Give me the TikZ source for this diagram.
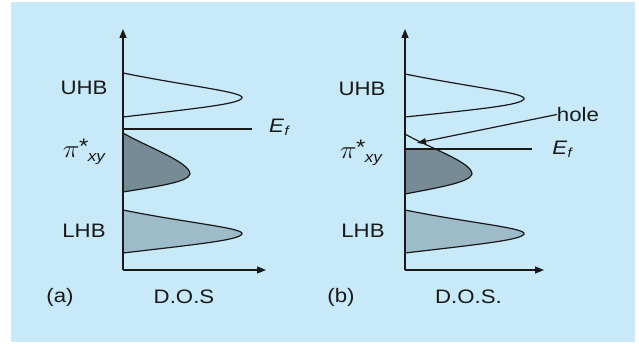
\documentclass[tikz,border=0pt]{standalone}
\usepackage{fontspec}
\setmainfont{Liberation Sans}
\usetikzlibrary{arrows.meta}
\definecolor{bgblue}{RGB}{200,233,248}
\definecolor{darkband}{RGB}{118,139,149}
\definecolor{lightband}{RGB}{157,187,201}
\definecolor{ink}{RGB}{25,25,25}
\newcommand{\wide}[1]{\scalebox{1.14}[1]{#1}}
\newcommand{\pilabel}{\wide{{\fontsize{23}{23}\selectfont$\pi$}\kern-1.5pt\raisebox{4pt}{\fontsize{21}{21}\selectfont\itshape *}\kern0.5pt\raisebox{-4pt}{\fontsize{15}{15}\selectfont\itshape xy}}}
\newcommand{\eflabel}{\wide{\itshape E\kern0.5pt\raisebox{-3pt}{\fontsize{13}{13}\selectfont f}}}
\begin{document}
\begin{tikzpicture}[x=1pt,y=-1pt,
  axis/.style={ink, line width=1.4pt, -{Triangle[length=9pt,width=7pt]}},
  band/.style={ink, line width=1.2pt},
  lbl/.style={font=\fontsize{19.5}{21}\selectfont, inner sep=0pt, text=ink}]
\useasboundingbox (0,0) rectangle (639,344);
\fill[white] (0,0) rectangle (639,344);
\fill[bgblue] (11,2) rectangle (635,342);

% ---------- panel (a) ----------
\coordinate (oa) at (123,270);
\coordinate (ya) at (123,29);
\coordinate (xa) at (266,270);
% bands
\draw[band] (123,73) .. controls (187,86) and (245,92) .. (242,98)
            .. controls (239,104) and (200,108) .. (123,117);
\filldraw[band, fill=darkband] (123,133) .. controls (145,146) and (190,162) .. (190,174)
            .. controls (188,182) and (160,186) .. (123,192) -- cycle;
\filldraw[band, fill=lightband] (123,210) .. controls (187,223) and (245,228) .. (242,234)
            .. controls (239,240) and (200,244) .. (123,253) -- cycle;
% Fermi level
\coordinate (efa1) at (123,129);
\coordinate (efa2) at (252,129);
\draw[band] (efa1) -- (efa2);
% axes
\draw[axis] (oa) -- (ya);
\draw[axis] (oa) -- (xa);
% labels
\node[lbl] (uhba) at (84,87.5) {\wide{UHB}};
\node[lbl] (lhba) at (84,231) {\wide{LHB}};
\node[lbl] (pia) at (84,152) {\pilabel};
\node[lbl] (efla) at (279,127) {\eflabel};
\node[lbl] (taga) at (60,297.5) {\wide{(a)}};
\node[lbl] (dosa) at (184,296.5) {\wide{D.O.S}};

% ---------- panel (b) ----------
\coordinate (ob) at (405,270);
\coordinate (yb) at (405,29);
\coordinate (xb) at (544,270);
\draw[band] (405,74) .. controls (469,87) and (527,93) .. (524,99)
            .. controls (521,105) and (482,109) .. (405,117);
\begin{scope}
  \clip (405,149) rectangle (520,200);
  \fill[darkband] (405,134) .. controls (427,147) and (472,162) .. (472,174)
            .. controls (470,182) and (442,187) .. (405,194) -- cycle;
\end{scope}
\draw[band] (405,134) .. controls (427,147) and (472,162) .. (472,174)
            .. controls (470,182) and (442,187) .. (405,194);
\filldraw[band, fill=lightband] (405,210) .. controls (469,223) and (527,228) .. (524,234)
            .. controls (521,240) and (482,244) .. (405,253) -- cycle;
\coordinate (efb1) at (405,149);
\coordinate (efb2) at (532,149);
\draw[ink, line width=1.5pt] (efb1) -- (efb2);
\draw[axis] (ob) -- (yb);
\draw[axis] (ob) -- (xb);
\node[lbl] (uhbb) at (362,89) {\wide{UHB}};
\node[lbl] (lhbb) at (363,231) {\wide{LHB}};
\node[lbl] (pib) at (361,153) {\pilabel};
\node[lbl] (eflb) at (562,149) {\eflabel};
\node[lbl] (tagb) at (341,297.5) {\wide{(b)}};
\node[lbl] (dosb) at (468.5,296.5) {\wide{D.O.S.}};
\node[lbl] (hole) at (578,114.5) {\wide{hole}};
\coordinate (holetip) at (417,143);
\draw[band, -{Triangle[length=9pt,width=6pt]}] (hole.west) -- (holetip);
\end{tikzpicture}
\end{document}
